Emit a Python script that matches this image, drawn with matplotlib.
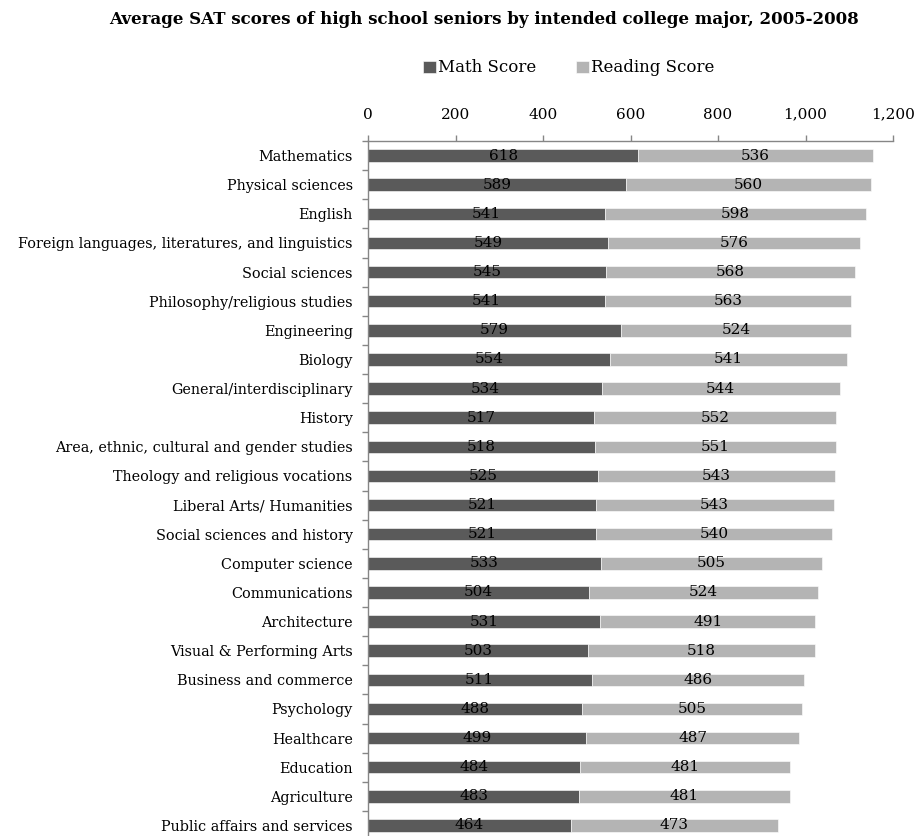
import matplotlib
matplotlib.use("Agg")
import matplotlib.pyplot as plt
from matplotlib.ticker import FuncFormatter, FixedLocator
import numpy as np

categories = ["Mathematics", "Physical sciences", "English",
              "Foreign languages, literatures, and linguistics", "Social sciences",
              "Philosophy/religious studies", "Engineering", "Biology",
              "General/interdisciplinary", "History",
              "Area, ethnic, cultural and gender studies",
              "Theology and religious vocations", "Liberal Arts/ Humanities",
              "Social sciences and history", "Computer science", "Communications",
              "Architecture", "Visual & Performing Arts", "Business and commerce",
              "Psychology", "Healthcare", "Education", "Agriculture",
              "Public affairs and services"]
math_scores = [618, 589, 541, 549, 545, 541, 579, 554, 534, 517, 518, 525, 521, 521,
               533, 504, 531, 503, 511, 488, 499, 484, 483, 464]
reading_scores = [536, 560, 598, 576, 568, 563, 524, 541, 544, 552, 551, 543, 543, 540,
                  505, 524, 491, 518, 486, 505, 487, 481, 481, 473]
x_ticks = [0, 200, 400, 600, 800, 1000, 1200]

plt.rcParams['font.family'] = ['DejaVu Serif']

fig = plt.figure(figsize=(9.19, 8.36), dpi=100)
ax = fig.add_axes([368/919, -4/836, (893-368)/919, (840-141)/836])

y = np.arange(len(categories))
math_c = "#5a5a5a"
read_c = "#b4b4b4"
h = 0.43
ax.barh(y, math_scores, height=h, color=math_c, edgecolor="white", linewidth=0.4, label="Math Score")
ax.barh(y, reading_scores, left=math_scores, height=h, color=read_c, edgecolor="white", linewidth=0.4, label="Reading Score")

fs = 10.4
dfs = 11
for i in range(len(categories)):
    ax.text(math_scores[i] / 2, y[i], str(math_scores[i]), ha="center", va="center", fontsize=dfs, color="black")
    ax.text(math_scores[i] + reading_scores[i] / 2, y[i], str(reading_scores[i]), ha="center", va="center", fontsize=dfs, color="black")

ax.set_xlim(0, 1200)
ax.set_ylim(len(categories) - 0.5, -0.5)
ax.xaxis.tick_top()
ax.xaxis.set_major_locator(FixedLocator(x_ticks))
ax.xaxis.set_major_formatter(FuncFormatter(lambda v, p: f"{int(v):,}"))
ax.set_yticks(y)
ax.set_yticklabels(categories, fontsize=fs)
ax.yaxis.set_minor_locator(FixedLocator(np.arange(-0.5, len(categories), 1.0)))
ax.tick_params(axis="y", which="major", length=0, pad=11)
ax.tick_params(axis="y", which="minor", length=4, color="#868686", width=1)
ax.tick_params(axis="x", which="major", length=4, color="#868686", width=1, labelsize=11, pad=10)
for s in ["right", "bottom"]:
    ax.spines[s].set_visible(False)
for s in ["top", "left"]:
    ax.spines[s].set_color("#868686")
    ax.spines[s].set_linewidth(1)

fig.text(484/919, 1 - 19/836, "Average SAT scores of high school seniors by intended college major, 2005-2008",
         ha="center", va="center", fontsize=12, fontweight="bold")
fig.legend(loc="center", bbox_to_anchor=(569/919, 1 - 68/836), ncol=2, frameon=False,
           fontsize=12, handlelength=0.75, handleheight=0.75, handletextpad=0.15, columnspacing=2.4)

fig.savefig("out.png", dpi=100)
